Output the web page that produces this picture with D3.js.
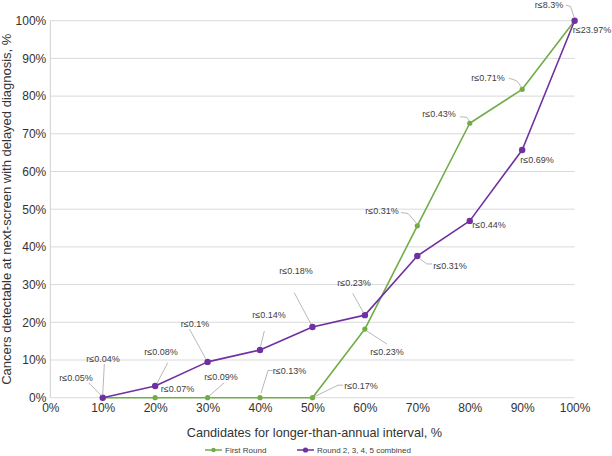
<!DOCTYPE html>
<html>
<head>
<meta charset="utf-8">
<script src="https://cdn.jsdelivr.net/npm/d3@7"></script>
<style>
  html, body { margin: 0; padding: 0; background: #fff; }
  svg { display: block; font-family: "Liberation Sans", Arial, Helvetica, sans-serif; }
</style>
</head>
<body>
<svg id="chart" width="612" height="456"></svg>
<script>
// ---------- data ----------
const categories = [10, 20, 30, 40, 50, 60, 70, 80, 90, 100];
const firstRound = [0, 0, 0, 0, 0, 18.2, 45.6, 72.8, 81.8, 100];
const laterRounds = [0, 3.1, 9.5, 12.65, 18.75, 21.9, 37.6, 46.9, 65.7, 100];
const firstLabels = ["r≤0.05%", "r≤0.07%", "r≤0.09%", "r≤0.13%", "r≤0.17%", "r≤0.23%", "r≤0.31%", "r≤0.43%", "r≤0.71%", "r≤8.3%"];
const laterLabels = ["r≤0.04%", "r≤0.08%", "r≤0.1%", "r≤0.14%", "r≤0.18%", "r≤0.23%", "r≤0.31%", "r≤0.44%", "r≤0.69%", "r≤23.97%"];
const xTicks = [0, 10, 20, 30, 40, 50, 60, 70, 80, 90, 100];
const yTicks = [0, 10, 20, 30, 40, 50, 60, 70, 80, 90, 100];
const seriesNames = ["First Round", "Round 2, 3, 4, 5 combined"];

// ---------- layout (label offsets relative to their point, px) ----------
const firstLabelPos = [
  {t: [-26.7, -19.7], l: [[-13.7, -14.7], [-1, -1.7]]},
  {t: [22.4, -8.7], l: null},
  {t: [13.5, -20.7], l: [[16.5, -14.7], [1.5, -1.7]]},
  {t: [29.5, -26.7], l: [[12.5, -27.2], [8, -27.2], [1, -4.5]]},
  {t: [48.5, -11.7], l: [[30.5, -12.5], [25.5, -12.5], [2, -1]]},
  {t: [22.1, 23.2], l: [[2, 2], [22, 15]]},
  {t: [-35.3, -14.3], l: [[-16.3, -13.3], [-9.3, -12.3], [-0.6, -2.3]]},
  {t: [-30.7, -9.2], l: [[-9.7, -6.5], [-3, -5.9], [-0.4, -2.2]]},
  {t: [-34.2, -11.5], l: [[-13.2, -11.2], [-5.5, -8.5], [-0.5, -2]]},
  {t: [-25.6, -15.7], l: [[-8.9, -15.7], [-3.9, -14], [-0.6, -3.7]]}
];
const laterLabelPos = [
  {t: [0.3, -38.7], l: [[1.6, -33.7], [0, -3.2]]},
  {t: [5.9, -34.3], l: [[12.6, -23.3], [1.9, -2.8]]},
  {t: [-12.5, -37.9], l: [[-18.2, -32.9], [-2, -3.4]]},
  {t: [9, -35], l: [[4.3, -19], [0.5, -3.5]]},
  {t: [-16.5, -56], l: [[-18.2, -34.3], [-1.5, -3]]},
  {t: [-10.9, -32.1], l: [[-12.2, -21.8], [-1.4, -2.6]]},
  {t: [32.7, 10], l: [[2.7, 3], [9.4, 8], [14.7, 8]]},
  {t: [19.3, 4.1], l: null},
  {t: [14.8, 10], l: null},
  {t: [17.4, 9.3], l: null}
];

const GREEN = "#70ad47", PURPLE = "#7030a0";
const svg = d3.select("#chart");
const margin = {left: 50.3, right: 37.4, top: 20.7, bottom: 58.3};
const W = 612, H = 456;
const x = d3.scaleLinear().domain([0, 100]).range([margin.left, W - margin.right]);
const y = d3.scaleLinear().domain([0, 100]).range([H - margin.bottom, margin.top]);

// gridlines
svg.append("g").selectAll("line").data(yTicks).join("line")
  .attr("x1", x(0)).attr("x2", x(100))
  .attr("y1", d => y(d)).attr("y2", d => y(d))
  .attr("stroke", "#d9d9d9").attr("stroke-width", 1);
// left axis line
svg.append("line").attr("x1", x(0)).attr("x2", x(0)).attr("y1", y(100)).attr("y2", y(0))
  .attr("stroke", "#d0d0d0").attr("stroke-width", 1);

// axes labels via d3 axes
const yAxis = d3.axisLeft(y).tickValues(yTicks).tickFormat(d => d + "%").tickSize(0).tickPadding(4);
const gy = svg.append("g").attr("transform", `translate(${x(0)},0)`).call(yAxis);
gy.select(".domain").remove();
gy.selectAll("text").attr("font-size", 12).attr("fill", "#333").attr("font-family", "Liberation Sans, Arial, sans-serif");

const xAxis = d3.axisBottom(x).tickValues(xTicks).tickFormat(d => d + "%").tickSize(0).tickPadding(6);
const gx = svg.append("g").attr("transform", `translate(0,${y(0)})`).call(xAxis);
gx.select(".domain").remove();
gx.selectAll("text").attr("font-size", 12).attr("fill", "#333").attr("font-family", "Liberation Sans, Arial, sans-serif");

// axis titles
svg.append("text").attr("x", (x(0) + x(100)) / 2 + 2).attr("y", 437)
  .attr("text-anchor", "middle").attr("font-size", 12.7).attr("fill", "#333")
  .text("Candidates for longer-than-annual interval, %");
svg.append("text").attr("transform", `translate(11,${(y(0) + y(100)) / 2}) rotate(-90)`)
  .attr("text-anchor", "middle").attr("font-size", 13).attr("fill", "#333")
  .text("Cancers detectable at next-screen with delayed diagnosis, %");

const line = d3.line().x(d => x(d[0])).y(d => y(d[1]));

function drawSeries(values, color, r) {
  const pts = categories.map((c, i) => [c, values[i]]);
  svg.append("path").datum(pts).attr("d", line)
    .attr("fill", "none").attr("stroke", color).attr("stroke-width", 1.6).attr("stroke-linejoin", "round");
  svg.append("g").selectAll("circle").data(pts).join("circle")
    .attr("cx", d => x(d[0])).attr("cy", d => y(d[1])).attr("r", r).attr("fill", color);
  return pts;
}

function drawLabels(values, labels, pos) {
  const g = svg.append("g");
  categories.forEach((c, i) => {
    const px = x(c), py = y(values[i]);
    const p = pos[i];
    if (p.l) {
      g.append("polyline")
        .attr("points", p.l.map(q => `${px + q[0]},${py + q[1]}`).join(" "))
        .attr("fill", "none").attr("stroke", "#a6a6a6").attr("stroke-width", 0.8);
    }
    g.append("text").attr("x", px + p.t[0]).attr("y", py + p.t[1])
      .attr("text-anchor", "middle").attr("dominant-baseline", "central")
      .attr("font-size", 9).attr("fill", "#404040").text(labels[i]);
  });
}

drawSeries(firstRound, GREEN, 2.6);
drawSeries(laterRounds, PURPLE, 3.2);
drawLabels(firstRound, firstLabels, firstLabelPos);
drawLabels(laterRounds, laterLabels, laterLabelPos);

// legend
const legend = [
  {name: seriesNames[0], color: GREEN, x0: 205, r: 2.2},
  {name: seriesNames[1], color: PURPLE, x0: 297, r: 2.6}
];
const lg = svg.append("g");
legend.forEach(d => {
  lg.append("line").attr("x1", d.x0).attr("x2", d.x0 + 17).attr("y1", 450).attr("y2", 450)
    .attr("stroke", d.color).attr("stroke-width", 1.5);
  lg.append("circle").attr("cx", d.x0 + 8.5).attr("cy", 450).attr("r", d.r).attr("fill", d.color);
  lg.append("text").attr("x", d.x0 + 20).attr("y", 450).attr("dominant-baseline", "central")
    .attr("font-size", 8).attr("fill", "#404040").text(d.name);
});
</script>
</body>
</html>
